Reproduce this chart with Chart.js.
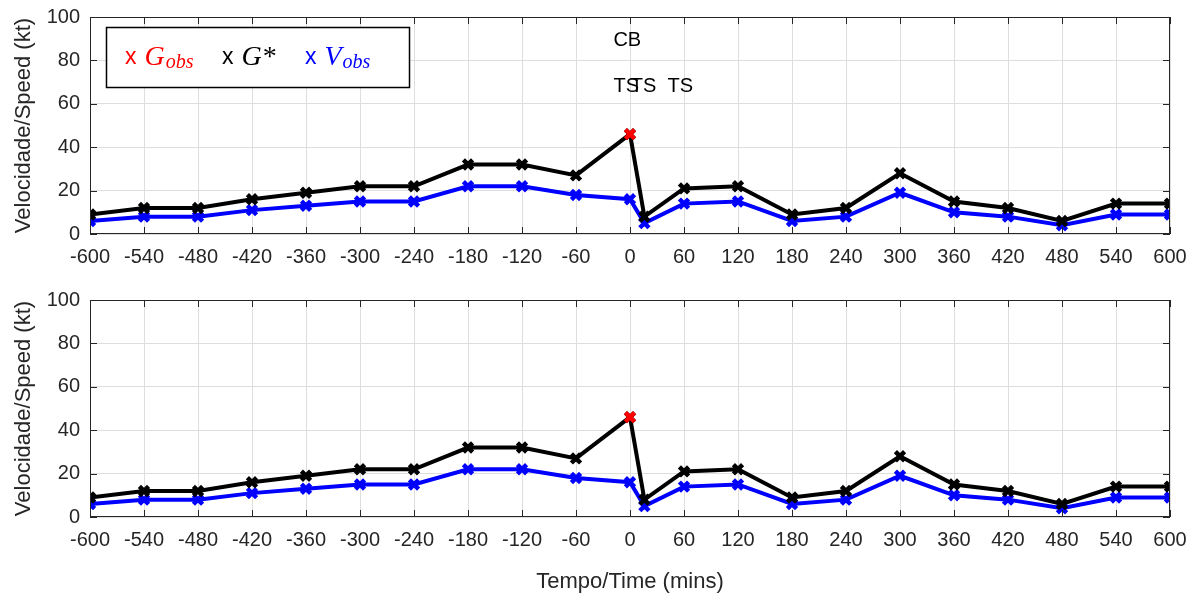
<!DOCTYPE html>
<html>
<head>
<meta charset="utf-8">
<script src="https://cdn.jsdelivr.net/npm/chart.js@4"></script>
<style>
    body { margin: 0; background: #fff; width: 1198px; height: 600px; overflow: hidden; position: relative; }
    .panel { position: absolute; left: 0; width: 1198px; }
    #top { top: -5px; height: 275px; }
    #bot { top: 278px; height: 322px; }
</style>
</head>
<body>
<div class="panel" id="top"><canvas id="chartTop"></canvas></div>
<div class="panel" id="bot"><canvas id="chartBot"></canvas></div>
<script>
// data
const times = [-600, -540, -480, -420, -360, -300, -240, -180, -120, -60, 0, 16, 60, 120, 180, 240, 300, 360, 420, 480, 540, 600];
const gStar = [9, 12, 12, 16, 19, 22, 22, 32, 32, 27, 46, 8, 21, 22, 9, 12, 28, 15, 12, 6, 14, 14];
const vObs  = [6, 8, 8, 11, 13, 15, 15, 22, 22, 18, 16, 5, 14, 15, 6, 8, 19, 10, 8, 4, 9, 9];
const gObsTimes = [0];
const gObsValues = [46];

const xTicks = [-600, -540, -480, -420, -360, -300, -240, -180, -120, -60, 0, 60, 120, 180, 240, 300, 360, 420, 480, 540, 600];
const yTicks = [0, 20, 40, 60, 80, 100];

const noteText = ['CB', 'TS', 'TS', 'TS'];
const noteX = [-3, -4, 15, 56];
const noteY = [89, 68, 68, 68];

const legendMain = ['G', 'G', 'V'];
const legendSub = ['obs', '*', 'obs'];
const legendColors = ['#ff0000', '#000000', '#0000ff'];

const axisColor = '#262626';
const gridColor = '#dedede';
const sans = '"Liberation Sans", Arial, sans-serif';
const serif = '"Liberation Serif", "Times New Roman", serif';

function toPoints(xs, ys) {
    return xs.map((x, i) => ({ x: x, y: ys[i] }));
}

// box around the axes with inward ticks on every side
const boxPlugin = {
    id: 'boxPlugin',
    afterDraw(chart) {
        const ctx = chart.ctx;
        const a = chart.chartArea;
        const xs = chart.scales.x;
        const ys = chart.scales.y;
        ctx.save();
        ctx.strokeStyle = axisColor;
        ctx.lineWidth = 1;
        ctx.strokeRect(a.left + 0.5, a.top + 0.5, a.right - a.left - 1, a.bottom - a.top - 1);
        const tl = 7;
        ctx.beginPath();
        xTicks.forEach(t => {
            const px = Math.round(xs.getPixelForValue(t)) + 0.5;
            ctx.moveTo(px, a.bottom); ctx.lineTo(px, a.bottom - tl);
            ctx.moveTo(px, a.top); ctx.lineTo(px, a.top + tl);
        });
        yTicks.forEach(t => {
            const py = Math.round(ys.getPixelForValue(t)) + 0.5;
            ctx.moveTo(a.left, py); ctx.lineTo(a.left + tl, py);
            ctx.moveTo(a.right, py); ctx.lineTo(a.right - tl, py);
        });
        ctx.stroke();
        ctx.restore();
    }
};

// legend box and text notes, only on the upper panel
const notesPlugin = {
    id: 'notesPlugin',
    afterDraw(chart) {
        const ctx = chart.ctx;
        const xs = chart.scales.x;
        const ys = chart.scales.y;
        ctx.save();
        ctx.fillStyle = '#000';
        ctx.font = '20px ' + sans;
        ctx.textAlign = 'center';
        ctx.textBaseline = 'middle';
        noteText.forEach((t, i) => {
            ctx.fillText(t, xs.getPixelForValue(noteX[i]), ys.getPixelForValue(noteY[i]));
        });

        // legend (canvas is shifted 5px up)
        const oy = 5;
        ctx.fillStyle = '#fff';
        ctx.fillRect(106, 27 + oy, 304, 61);
        ctx.strokeStyle = '#000';
        ctx.lineWidth = 1.5;
        ctx.strokeRect(106.5, 27.5 + oy, 303, 60);
        const startX = [125, 222, 305];
        const baseY = 65 + oy;
        ctx.textAlign = 'left';
        ctx.textBaseline = 'alphabetic';
        legendMain.forEach((m, i) => {
            ctx.fillStyle = legendColors[i];
            let x = startX[i];
            ctx.font = '23px ' + sans;
            ctx.fillText('x', x, baseY - 1);
            x += ctx.measureText('x').width + 8;
            ctx.font = 'italic 28px ' + serif;
            ctx.fillText(m, x, baseY);
            x += ctx.measureText(m).width + 1;
            if (legendSub[i] === '*') {
                ctx.font = '28px ' + serif;
                ctx.fillText('*', x, baseY);
            } else {
                ctx.font = 'italic 20px ' + serif;
                ctx.fillText(legendSub[i], x, baseY + 3);
            }
        });
        ctx.restore();
    }
};

function makeChart(canvasId, bottomHeight, withTitle, extraPlugins) {
    const el = document.getElementById(canvasId);
    return new Chart(el, {
        type: 'line',
        data: {
            datasets: [
                {
                    label: 'Gobs',
                    data: toPoints(gObsTimes, gObsValues),
                    borderColor: '#ff0000',
                    backgroundColor: '#ff0000',
                    showLine: false,
                    pointStyle: 'crossRot',
                    pointRadius: 6.5,
                    pointBorderWidth: 4.5
                },
                {
                    label: 'G*',
                    data: toPoints(times, gStar),
                    borderColor: '#000000',
                    backgroundColor: '#000000',
                    borderWidth: 4,
                    pointStyle: 'crossRot',
                    pointRadius: 6.5,
                    pointBorderWidth: 4.5,
                    tension: 0
                },
                {
                    label: 'Vobs',
                    data: toPoints(times, vObs),
                    borderColor: '#0000ff',
                    backgroundColor: '#0000ff',
                    borderWidth: 4,
                    pointStyle: 'crossRot',
                    pointRadius: 6.5,
                    pointBorderWidth: 4.5,
                    tension: 0
                }
            ]
        },
        options: {
            responsive: true,
            maintainAspectRatio: false,
            animation: false,
            events: [],
            layout: { padding: { top: 12, right: 28, left: 0, bottom: 0 } },
            plugins: {
                legend: { display: false },
                tooltip: { enabled: false }
            },
            scales: {
                x: {
                    type: 'linear',
                    min: -600,
                    max: 600,
                    afterBuildTicks: scale => { scale.ticks = xTicks.map(v => ({ value: v })); },
                    afterFit: scale => { scale.height = bottomHeight; },
                    grid: { color: gridColor, drawTicks: false },
                    border: { display: false },
                    ticks: {
                        color: axisColor,
                        font: { family: sans, size: 20 },
                        padding: 11,
                        maxRotation: 0,
                        autoSkip: false
                    },
                    title: {
                        display: withTitle,
                        text: 'Tempo/Time (mins)',
                        color: axisColor,
                        font: { family: sans, size: 22 },
                        padding: { top: 0, bottom: 5 }
                    }
                },
                y: {
                    type: 'linear',
                    min: 0,
                    max: 100,
                    afterBuildTicks: scale => { scale.ticks = yTicks.map(v => ({ value: v })); },
                    afterFit: scale => { scale.width = 90; },
                    grid: { color: gridColor, drawTicks: false },
                    border: { display: false },
                    ticks: {
                        color: axisColor,
                        font: { family: sans, size: 20 },
                        padding: 10
                    },
                    title: {
                        display: true,
                        text: 'Velocidade/Speed (kt)',
                        color: axisColor,
                        font: { family: sans, size: 22 },
                        padding: { top: 11, bottom: 0 }
                    }
                }
            }
        },
        plugins: [boxPlugin].concat(extraPlugins)
    });
}

makeChart('chartTop', 36, false, [notesPlugin]);
makeChart('chartBot', 83, true, []);
</script>
</body>
</html>
